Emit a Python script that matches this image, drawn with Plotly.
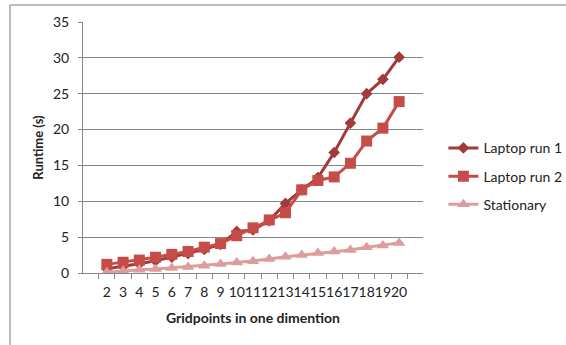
import plotly.graph_objects as go

# Grid size (points per dimension) and measured runtimes in seconds
gridpoints = [str(n) for n in range(2, 21)]
laptop_run1 = [0.6, 0.9, 1.3, 1.7, 2.2, 2.7, 3.3, 4.0, 5.8, 6.0, 7.3, 9.7, 11.6, 13.3, 16.8, 20.9, 25.0, 27.0, 30.1]
laptop_run2 = [1.2, 1.5, 1.8, 2.2, 2.6, 3.0, 3.6, 4.1, 5.2, 6.3, 7.4, 8.4, 11.6, 12.9, 13.4, 15.3, 18.4, 20.2, 23.9]
stationary = [0.1, 0.3, 0.45, 0.55, 0.7, 0.85, 1.0, 1.25, 1.45, 1.65, 1.95, 2.25, 2.5, 2.8, 3.0, 3.2, 3.6, 3.85, 4.2]

y_ticks = [0, 5, 10, 15, 20, 25, 30, 35]

FONT = "Lato, Calibri, sans-serif"

fig = go.Figure()
fig.add_trace(go.Scatter(
    x=gridpoints, y=laptop_run1, name="Laptop run 1", mode="lines+markers",
    legendgroup="a",
    line=dict(color="#a33a3a", width=3),
    marker=dict(symbol="diamond", size=9, color="#a33a3a"),
))
fig.add_trace(go.Scatter(
    x=gridpoints, y=laptop_run2, name="Laptop run 2", mode="lines+markers",
    legendgroup="b",
    line=dict(color="#c64c4a", width=3),
    marker=dict(symbol="square", size=11, color="#c64c4a"),
))
fig.add_trace(go.Scatter(
    x=gridpoints, y=stationary, name="Stationary", mode="lines+markers",
    legendgroup="c",
    line=dict(color="#dc9d9c", width=3),
    marker=dict(symbol="triangle-up", size=11, color="#dc9d9c"),
))

# outer chart frame (top and left edges visible)
fig.add_shape(type="line", xref="paper", yref="paper",
              x0=-0.2147, x1=1.6, y0=1.068, y1=1.068,
              line=dict(color="#a6a6a6", width=1.5))
fig.add_shape(type="line", xref="paper", yref="paper",
              x0=-0.2147, x1=-0.2147, y0=1.068, y1=-0.4,
              line=dict(color="#a6a6a6", width=1.5))

fig.update_layout(
    width=566, height=345,
    margin=dict(l=83, r=143, t=22, b=72, autoexpand=False),
    paper_bgcolor="white", plot_bgcolor="white",
    font=dict(family=FONT, size=14, color="#222222"),
    legend=dict(
        x=1.06, y=0.385, xanchor="left", yanchor="middle",
        traceorder="grouped", tracegroupgap=7,
        font=dict(family=FONT, size=14, color="#222222"),
        itemwidth=30,
        bgcolor="rgba(0,0,0,0)",
    ),
    xaxis=dict(
        type="category", tickson="boundaries", ticks="outside", ticklen=5,
        tickcolor="#868686", showline=True, linecolor="#868686", linewidth=1,
        showgrid=False, tickfont=dict(size=14), tickangle=0,
        tickmode="array", tickvals=gridpoints, ticktext=gridpoints,
        ticklabelstandoff=6,
        title=dict(text="<b>Gridpoints in one dimention</b>", font=dict(size=14), standoff=14),
    ),
    yaxis=dict(
        range=[0, 35], tickvals=y_ticks, ticks="outside", ticklen=4,
        tickcolor="#868686", showline=True, linecolor="#868686", linewidth=1,
        showgrid=True, gridcolor="#868686", gridwidth=1, zeroline=False,
        tickfont=dict(size=14), ticklabelstandoff=6,
        title=dict(text="<b>Runtime (s)</b>", font=dict(size=13), standoff=6),
    ),
    showlegend=True,
)

fig.write_html("out.html")
